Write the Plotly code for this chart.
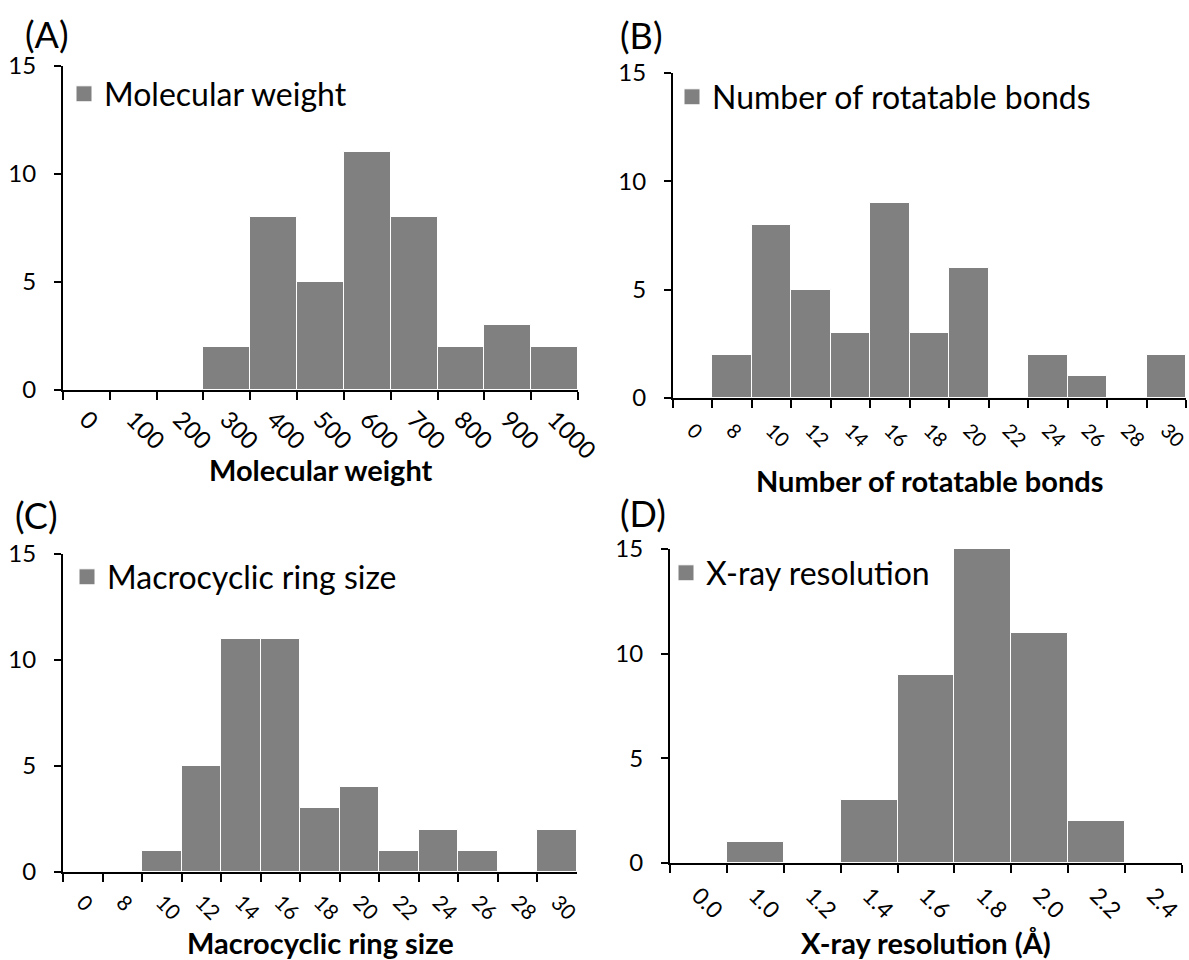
import plotly.graph_objects as go

# ---- data ----
mw_bins = ["0", "100", "200", "300", "400", "500", "600", "700", "800", "900", "1000"]
mw_counts = [0, 0, 0, 2, 8, 5, 11, 8, 2, 3, 2]

rb_bins = ["0", "8", "10", "12", "14", "16", "18", "20", "22", "24", "26", "28", "30"]
rb_counts = [0, 2, 8, 5, 3, 9, 3, 6, 0, 2, 1, 0, 2]

ring_bins = ["0", "8", "10", "12", "14", "16", "18", "20", "22", "24", "26", "28", "30"]
ring_counts = [0, 0, 1, 5, 11, 11, 3, 4, 1, 2, 1, 0, 2]

res_bins = ["0.0", "1.0", "1.2", "1.4", "1.6", "1.8", "2.0", "2.2", "2.4"]
res_counts = [0, 1, 0, 3, 9, 15, 11, 2, 0]

panels = [
    ("Molecular weight", "Molecular weight", mw_bins, mw_counts, "(A)"),
    ("Number of rotatable bonds", "Number of rotatable bonds", rb_bins, rb_counts, "(B)"),
    ("Macrocyclic ring size", "Macrocyclic ring size", ring_bins, ring_counts, "(C)"),
    ("X-ray resolution", "X-ray resolution (Å)", res_bins, res_counts, "(D)"),
]

W, H = 1189, 960
FONT = "Lato"
GRAY = "#808080"

# pixel boxes: (left, right, top, bottom)
boxes = [
    (63, 578, 66, 390),
    (673, 1186, 73, 398),
    (63, 577, 554, 872),
    (670, 1182, 549, 863),
]
# legend: (left px, centre y px)
legend_pos = [(64, 94), (672, 97), (67, 577), (666, 573)]
label_pos = [(47, 34), (641, 35), (36, 515), (643, 513)]
xtitle_y = [469, 480, 942, 942]
xtick_size = [24, 20, 21, 23]
xtick_standoff = [4, 11, 8, 8]

fig = go.Figure()
layout = dict(
    width=W, height=H,
    margin=dict(l=0, r=0, t=0, b=0, autoexpand=False),
    paper_bgcolor="white", plot_bgcolor="white",
    bargap=0,
    font=dict(family=FONT, color="black"),
    annotations=[],
)

for i, (legname, xtitle, bins, counts, lab) in enumerate(panels):
    n = i + 1
    sfx = "" if n == 1 else str(n)
    lg = "legend" if n == 1 else f"legend{n}"
    fig.add_trace(go.Bar(
        x=bins, y=counts, name=legname,
        xaxis=f"x{sfx}", yaxis=f"y{sfx}",
        marker=dict(color=GRAY, line=dict(color="white", width=1)),
        width=1.0,
        legendgroup=f"g{n}", showlegend=False,
    ))
    # legend key (square swatch for the bar series)
    fig.add_trace(go.Scatter(
        x=[None], y=[None], name=legname, mode="markers",
        xaxis=f"x{sfx}", yaxis=f"y{sfx}",
        marker=dict(symbol="square", size=19, color=GRAY, line=dict(color="white", width=1)),
        legendgroup=f"g{n}", legend=lg, showlegend=True, hoverinfo="skip",
    ))
    l, r, t, b = boxes[i]
    layout[f"xaxis{sfx}"] = dict(
        domain=[l / W, r / W], anchor=f"y{sfx}", type="category",
        categoryorder="array", categoryarray=bins,
        range=[-0.5, len(bins) - 0.5],
        showline=True, linecolor="black", linewidth=2,
        ticks="outside", tickson="boundaries", ticklen=8, tickwidth=2, tickcolor="black",
        tickangle=45, tickfont=dict(size=xtick_size[i], family=FONT, color="black"),
        ticklabelstandoff=xtick_standoff[i],
        showgrid=False, zeroline=False,
    )
    layout[f"yaxis{sfx}"] = dict(
        domain=[1 - b / H, 1 - t / H], anchor=f"x{sfx}",
        range=[0, 15], dtick=5, tick0=0,
        showline=True, linecolor="black", linewidth=2,
        ticks="outside", ticklen=7, tickwidth=2, tickcolor="black",
        ticklabelstandoff=13,
        tickfont=dict(size=24, family=FONT, color="black"),
        showgrid=False, zeroline=False,
    )
    lx, ly = legend_pos[i]
    layout[lg] = dict(
        x=lx / W, y=1 - ly / H, xanchor="left", yanchor="middle",
        bgcolor="rgba(0,0,0,0)", font=dict(size=32, family=FONT, color="black"),
        itemsizing="trace",
    )
    px_, py_ = label_pos[i]
    layout["annotations"].append(dict(
        text=lab, x=px_ / W, y=1 - py_ / H, xref="paper", yref="paper",
        xanchor="center", yanchor="middle", showarrow=False,
        font=dict(size=36, family=FONT, color="black"),
    ))
    # x-axis title
    layout["annotations"].append(dict(
        text=f"<b>{xtitle}</b>", x=(l + r) / 2 / W, y=1 - xtitle_y[i] / H,
        xref="paper", yref="paper", xanchor="center", yanchor="middle",
        showarrow=False, font=dict(size=29, family=FONT, color="black"),
    ))

fig.update_layout(**layout)
fig.write_html("out.html", config={"displayModeBar": False},
               post_script="document.body.style.margin='0';")
